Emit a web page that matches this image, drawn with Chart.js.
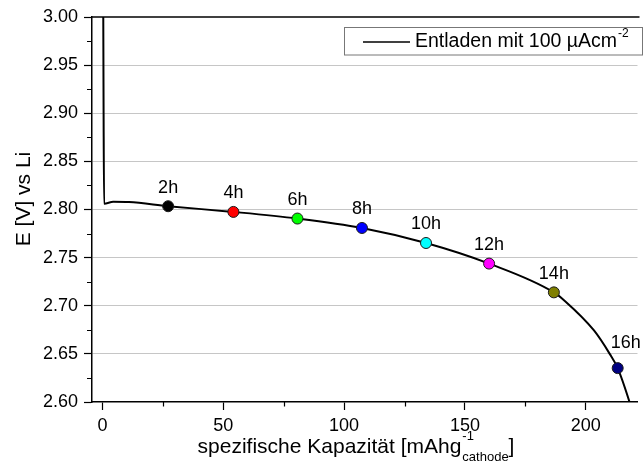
<!DOCTYPE html>
<html>
<head>
<meta charset="utf-8">
<title>Entladekurve</title>
<style>
  html, body { margin: 0; padding: 0; background: #ffffff; }
  #wrap { width: 644px; height: 463px; position: relative; }
</style>
<script src="https://cdn.jsdelivr.net/npm/chart.js@4/dist/chart.umd.min.js"></script>
</head>
<body>
<div id="wrap"><canvas id="chart" width="644" height="463"></canvas></div>
<script>
// Discharge curve: specific capacity (mAh/g cathode) vs. potential (V vs Li)
const curveCapacity = [0.3, 0.5, 0.7, 4.5, 11, 27.2, 54.2, 80.7, 107.4, 133.9, 160.0, 186.8, 191.1, 203.4, 209.9, 213.2, 218.1, 222.5];
const curveVoltage  = [3.05, 2.90, 2.806, 2.808, 2.8077, 2.8034, 2.7975, 2.7906, 2.7808, 2.7652, 2.7438, 2.7139, 2.7055, 2.6743, 2.650, 2.6352, 2.600, 2.562];

// Marked discharge times
const hourLabels     = ['2h', '4h', '6h', '8h', '10h', '12h', '14h', '16h'];
const markerCapacity = [27.2, 54.2, 80.7, 107.4, 133.9, 160.0, 186.8, 213.2];
const markerVoltage  = [2.8034, 2.7975, 2.7906, 2.7808, 2.7652, 2.7438, 2.7139, 2.6352];

// Axis ticks
const xTickValues = [0, 50, 100, 150, 200];
const yTickValues = [2.60, 2.65, 2.70, 2.75, 2.80, 2.85, 2.90, 2.95, 3.00];

const seriesName = 'Entladen mit 100 µAcm';
const seriesNameSup = '-2';
const yTitle = 'E [V] vs Li';
const xTitleMain = 'spezifische Kapazität [mAhg';
const xTitleSup = '-1';
const xTitleSub = 'cathode';
const xTitleEnd = ']';

// Styling
const markerColors = ['#000000', '#ff0000', '#00ff00', '#0000ff', '#00ffff', '#ff00ff', '#808000', '#000080'];
const labelShift = [[0, 0], [0, 0], [0, 0], [0, 0], [0, 0], [0, 0], [0, 0], [8, -7]];
const FONT = '"Liberation Sans", Arial, Helvetica, sans-serif';

const curvePoints = curveCapacity.map((x, i) => ({ x: x, y: curveVoltage[i] }));
const markerPoints = markerCapacity.map((x, i) => ({ x: x, y: markerVoltage[i] }));

function midpoints(vals) {
  const out = [];
  for (let i = 0; i < vals.length - 1; i++) out.push((vals[i] + vals[i + 1]) / 2);
  return out;
}

function textWidth(ctx, text, size) {
  ctx.font = size + 'px ' + FONT;
  return ctx.measureText(text).width;
}

const decorations = {
  id: 'decorations',
  afterDraw(chart) {
    const { ctx, chartArea: a } = chart;
    const xs = chart.scales.x, ys = chart.scales.y;
    ctx.save();

    // top frame line
    ctx.strokeStyle = '#000';
    ctx.lineWidth = 1.5;
    ctx.beginPath();
    ctx.moveTo(a.left, a.top);
    ctx.lineTo(a.right + 2, a.top);
    ctx.stroke();

    // minor ticks
    ctx.lineWidth = 1.2;
    ctx.beginPath();
    midpoints(yTickValues).forEach(v => {
      const py = Math.round(ys.getPixelForValue(v)) + 0.5;
      ctx.moveTo(a.left - 5, py);
      ctx.lineTo(a.left, py);
    });
    midpoints(xTickValues).concat([225]).forEach(v => {
      const px = Math.round(xs.getPixelForValue(v)) + 0.5;
      if (px > a.right) return;
      ctx.moveTo(px, a.bottom);
      ctx.lineTo(px, a.bottom + 4.5);
    });
    ctx.stroke();

    // hour labels above the markers
    ctx.fillStyle = '#000';
    ctx.font = '18px ' + FONT;
    ctx.textAlign = 'center';
    ctx.textBaseline = 'alphabetic';
    hourLabels.forEach((t, i) => {
      const px = xs.getPixelForValue(markerCapacity[i]) + labelShift[i][0];
      const py = ys.getPixelForValue(markerVoltage[i]) - 13.5 + labelShift[i][1];
      ctx.fillText(t, px, py);
    });

    // legend box
    ctx.fillStyle = '#ffffff';
    ctx.fillRect(344, 27, 300, 28);
    ctx.strokeStyle = '#777';
    ctx.lineWidth = 1;
    ctx.strokeRect(344.5, 27.5, 298, 27.5);
    ctx.strokeStyle = '#000';
    ctx.lineWidth = 1.6;
    ctx.beginPath();
    ctx.moveTo(363, 42);
    ctx.lineTo(410, 42);
    ctx.stroke();
    ctx.fillStyle = '#000';
    ctx.textAlign = 'left';
    ctx.font = '19.5px ' + FONT;
    ctx.fillText(seriesName, 415, 47);
    const wName = ctx.measureText(seriesName).width;
    ctx.font = '12px ' + FONT;
    ctx.fillText(seriesNameSup, 415 + wName + 1, 37);

    // y axis title
    ctx.save();
    ctx.translate(29.5, 199);
    ctx.rotate(-Math.PI / 2);
    ctx.font = '21px ' + FONT;
    ctx.textAlign = 'center';
    ctx.fillText(yTitle, 0, 0);
    ctx.restore();

    // x axis title with super- and subscript
    const wMain = textWidth(ctx, xTitleMain, 21);
    const wSup = textWidth(ctx, xTitleSup, 13);
    const wSub = textWidth(ctx, xTitleSub, 13);
    const wEnd = textWidth(ctx, xTitleEnd, 21);
    const total = wMain + Math.max(wSup, wSub) + 1 + wEnd;
    const x0 = 356 - total / 2;
    ctx.textAlign = 'left';
    ctx.font = '21px ' + FONT;
    ctx.fillText(xTitleMain, x0, 453);
    ctx.font = '13px ' + FONT;
    ctx.fillText(xTitleSup, x0 + wMain + 1, 440);
    ctx.fillText(xTitleSub, x0 + wMain + 1, 461);
    ctx.font = '21px ' + FONT;
    ctx.fillText(xTitleEnd, x0 + wMain + 1 + Math.max(wSup, wSub), 453);

    ctx.restore();
  }
};

new Chart(document.getElementById('chart'), {
  type: 'scatter',
  data: {
    datasets: [
      {
        label: hourLabels.join(', '),
        data: markerPoints,
        order: 1,
        pointRadius: 5.5,
        pointHoverRadius: 5.5,
        pointBackgroundColor: markerColors,
        pointBorderColor: '#1a1a1a',
        pointBorderWidth: 1
      },
      {
        label: seriesName,
        data: curvePoints,
        order: 2,
        showLine: true,
        borderColor: '#000',
        borderWidth: 2,
        pointRadius: 0,
        cubicInterpolationMode: 'monotone'
      }
    ]
  },
  options: {
    responsive: false,
    animation: false,
    devicePixelRatio: 1,
    layout: { padding: { top: 17, left: 0, right: 0, bottom: 0 } },
    plugins: {
      legend: { display: false },
      tooltip: { enabled: false },
      title: { display: false }
    },
    scales: {
      x: {
        type: 'linear',
        min: -4.3,
        max: 221.4,
        afterBuildTicks(s) { s.ticks = xTickValues.map(v => ({ value: v })); },
        afterFit(s) { s.height = 61; },
        ticks: {
          color: '#000',
          padding: 5,
          font: { family: FONT, size: 18 },
          callback: v => String(v)
        },
        grid: {
          drawOnChartArea: false,
          drawTicks: true,
          tickLength: 8,
          tickColor: '#000',
          tickWidth: 1.2
        },
        border: { color: '#000', width: 1.5 }
      },
      y: {
        type: 'linear',
        min: 2.6,
        max: 3.0,
        afterBuildTicks(s) { s.ticks = yTickValues.map(v => ({ value: v })); },
        afterFit(s) { s.width = 92; },
        ticks: {
          color: '#000',
          padding: 6,
          font: { family: FONT, size: 18 },
          callback: v => Number(v).toFixed(2)
        },
        grid: {
          color: c => (c.tick && (Math.abs(c.tick.value - 2.6) < 1e-6 || Math.abs(c.tick.value - 3.0) < 1e-6)) ? 'rgba(0,0,0,0)' : '#c6c6c6',
          lineWidth: 1,
          tickLength: 8,
          tickColor: '#000',
          tickWidth: 1.2
        },
        border: { color: '#000', width: 1.5 }
      }
    }
  },
  plugins: [decorations]
});
</script>
</body>
</html>
